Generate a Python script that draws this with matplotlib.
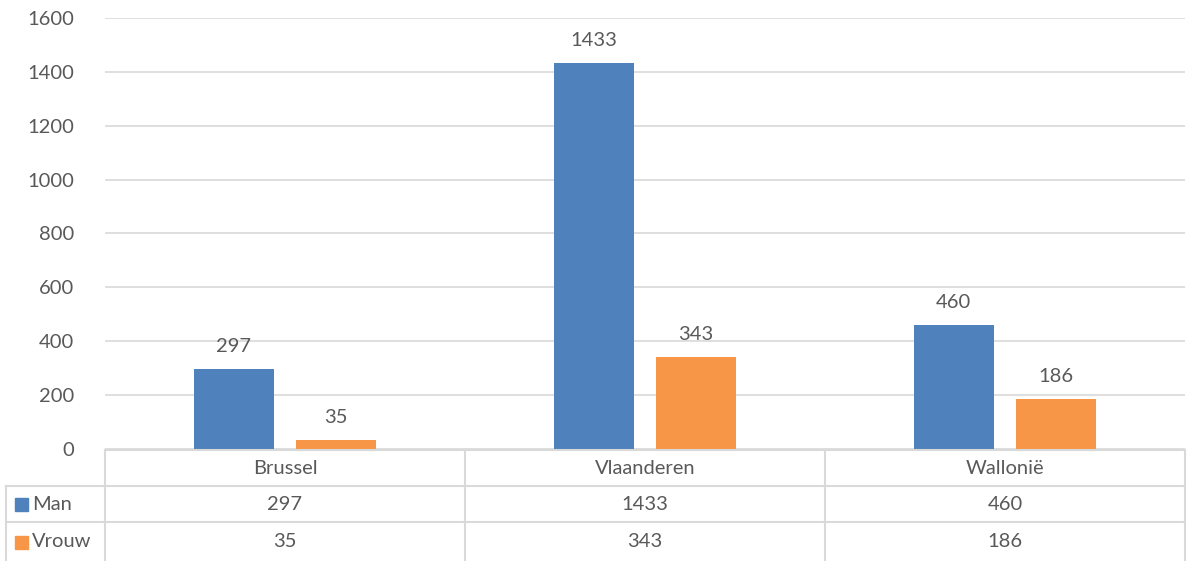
import matplotlib.pyplot as plt
from matplotlib.lines import Line2D
from matplotlib.patches import Rectangle
import numpy as np

categories = ["Brussel", "Vlaanderen", "Wallonië"]
series_names = ["Man", "Vrouw"]
man = [297, 1433, 460]
vrouw = [35, 343, 186]
colors = ["#4F81BD", "#F79646"]

W, H = 1187, 561
plt.rcParams['font.family'] = ['Lato', 'DejaVu Sans']
txt_color = "#595959"
grid_color = "#D9D9D9"
fs = 14.5

fig = plt.figure(figsize=(W / 100, H / 100), dpi=100)

# plot area in pixels
x0, x1 = 105, 1185
ytop, ybot = 18, 449
ax = fig.add_axes([x0 / W, (H - ybot) / H, (x1 - x0) / W, (ybot - ytop) / H])

x = np.arange(len(categories))
bw = 0.222
off = 0.142
for vals, dx, c in [(man, -off, colors[0]), (vrouw, off, colors[1])]:
    bars = ax.bar(x + dx, vals, width=bw, color=c, zorder=2)
    for b, v in zip(bars, vals):
        ax.annotate(str(v), (b.get_x() + b.get_width() / 2, v), xytext=(0, 10),
                    textcoords="offset points", ha="center", va="bottom",
                    fontsize=fs, color=txt_color)

ax.set_xlim(-0.5, len(categories) - 0.5)
ax.set_ylim(0, 1600)
ax.set_yticks(range(0, 1601, 200))
ax.grid(axis="y", color=grid_color, linewidth=1.2, zorder=0)
ax.set_xticks([])
for s in ax.spines.values():
    s.set_visible(False)
ax.tick_params(axis="y", length=0, pad=22, labelsize=fs, labelcolor=txt_color)

# data table below the plot
def px_line(xa, ya, xb, yb):
    fig.add_artist(Line2D([xa / W, xb / W], [1 - ya / H, 1 - yb / H],
                          transform=fig.transFigure, color=grid_color, linewidth=1.5))

def px_text(xp, yp, s, ha="center"):
    fig.text(xp / W, 1 - yp / H, s, ha=ha, va="center", fontsize=fs, color=txt_color)

row_y = [450, 486, 522, 561]
col_x = [x0 + i * (x1 - x0) / len(categories) for i in range(len(categories) + 1)]
left = 6

px_line(x0, row_y[0], x1, row_y[0])
px_line(left, row_y[1], x1, row_y[1])
px_line(left, row_y[2], x1, row_y[2])
px_line(left, row_y[1], left, row_y[3])
for cx in col_x:
    px_line(cx, row_y[0], cx, row_y[3])

for i, cat in enumerate(categories):
    cx = (col_x[i] + col_x[i + 1]) / 2
    px_text(cx, (row_y[0] + row_y[1]) / 2, cat)
    px_text(cx, (row_y[1] + row_y[2]) / 2, str(man[i]))
    px_text(cx, (row_y[2] + row_y[3]) / 2, str(vrouw[i]))

for j, (name, c) in enumerate(zip(series_names, colors)):
    yc = (row_y[j + 1] + row_y[j + 2]) / 2
    fig.add_artist(Rectangle((15 / W, 1 - (yc + 7) / H), 13 / W, 13 / H,
                             transform=fig.transFigure, color=c))
    px_text(32, yc, name, ha="left")

fig.savefig("out.png", dpi=100)
